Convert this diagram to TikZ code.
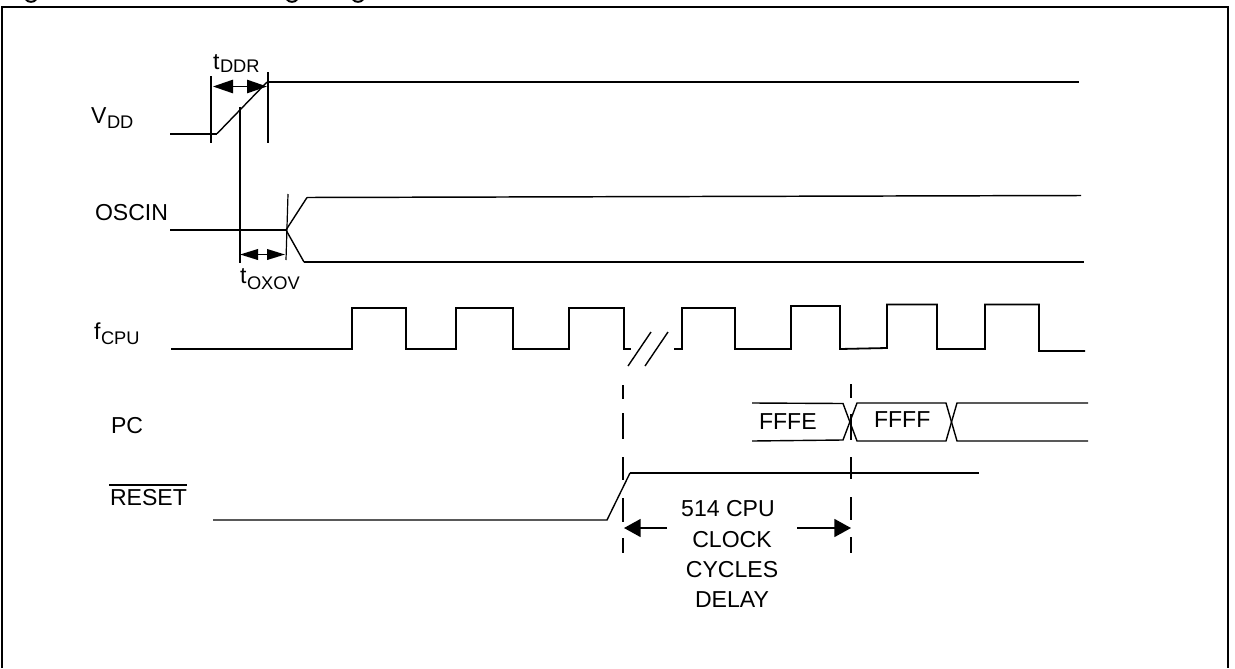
\documentclass[tikz,border=0pt]{standalone}
\usepackage{fontspec}
\setmainfont{Liberation Sans}
\usetikzlibrary{arrows.meta}
\tikzset{
  px/.style={x=0.75pt,y=-0.75pt},
  sig/.style={line width=1.35pt,line join=miter},
  thin sig/.style={line width=1.05pt,line join=miter},
  frame/.style={line width=1.6pt},
  tick/.style={line width=1.2pt},
  dashseg/.style={line width=1.2pt},
  txt/.style={anchor=base west,inner sep=0pt,outer sep=0pt,font=\fontsize{17.3}{20}\selectfont},
  ctxt/.style={anchor=base,inner sep=0pt,outer sep=0pt,font=\fontsize{17.3}{20}\selectfont},
  subt/.style={anchor=base west,inner sep=0pt,outer sep=0pt,font=\fontsize{13.7}{16}\selectfont},
  dimsmall/.style={line width=1.2pt,{Triangle[length=15pt,width=10pt]}-{Triangle[length=15pt,width=10pt]}},
  dimmid/.style={line width=1.2pt,{Triangle[length=13.5pt,width=8pt]}-{Triangle[length=13.5pt,width=8pt]}},
  dimbig/.style={line width=1.2pt,-{Triangle[length=12.5pt,width=13.5pt]}},
}
\begin{document}
\begin{tikzpicture}[px]
\useasboundingbox (0,0) rectangle (1235,668);
% title descenders, cut off by the top edge
\foreach \gx in {31,292,358}
  \draw[line width=1.5pt] (\gx-5,-0.5) .. controls (\gx-3,2.6) and (\gx+3,2.6) .. (\gx+5,-0.5);
% frame
\draw[frame] (2,668) -- (2,7) -- (1228,7) -- (1228,668);
% VDD
\draw[sig] (170,133.7) -- (217,133.7);
\draw[thin sig] (217,133.7) -- (267,82);
\draw[sig] (267,82) -- (1079,82);
\draw[tick] (211,76) -- (211,143);
\draw[tick] (268,72) -- (268,143);
\draw[dimsmall] (213,86.5) -- (267,86.5);
\draw[tick] (240,107) -- (240,263);
% OSCIN
\draw[thin sig] (170,230) -- (286,230);
\draw[thin sig] (286,230) -- (307,197.5);
\draw[sig,line width=1.1pt] (307,197.5) -- (1081,195.5);
\draw[thin sig] (286,230) -- (304,262);
\draw[sig] (304,262) -- (1084,262);
\draw[tick,line width=0.9pt] (288,194) -- (286,260);
\draw[dimmid] (240,254.5) -- (285,254.5);
% fCPU
\draw[sig] (171,349) -| (352,308) -| (406,349) -| (456,308) -| (513,349) -| (569,308) -| (624,349) -- (631,349);
\draw[thin sig] (628,366) -- (651,332);
\draw[thin sig] (645,366) -- (668,332);
\draw[sig] (674,349) -| (682,308) -| (735,349) -| (791,306) -| (840,349) -- (887,348) -- (887,304.5) -| (937,349) -| (985,304.5) -| (1039,351) -- (1085,351);
% PC
\draw[thin sig] (752,403) -- (843,403.5) -- (857,441) -- (946,441) -- (957,403) -- (1088,403);
\draw[thin sig] (752,441) -- (843,440) -- (857,403) -- (946,403) -- (957,441) -- (1088,441);
% RESET
\draw[thin sig] (213,520) -- (607,520) -- (630,473);
\draw[sig] (630,473) -- (979,473);
% dashed guides
\foreach \ya/\yb in {385/399,413/439,457/480,498/522,538/553}
  \draw[dashseg] (623,\ya) -- (623,\yb);
\foreach \ya/\yb in {384/398,414/440,457/479,497/520,537/553}
  \draw[dashseg] (851,\ya) -- (851,\yb);
% delay arrows
\draw[dimbig] (667,528) -- (624,528);
\draw[dimbig] (797,528) -- (851,528);
% labels
\node[txt] (tddr) at (213,69) {t};
\node[subt] (tddrs) at (220,72.5) {DDR};
\node[txt] (vdd) at (91,123) {V};
\node[subt] (vdds) at (107,128.5) {DD};
\node[txt] (oscin) at (95,220) {OSCIN};
\node[txt] (toxov) at (240,283) {t};
\node[subt] (toxovs) at (247,289) {OXOV};
\node[txt] (fcpu) at (94,339) {f};
\node[subt] (fcpus) at (101,344) {CPU};
\node[txt] (pc) at (111,433) {PC};
\node[txt] (reset) at (110,505) {RESET};
\draw[line width=1.4pt] (109,485) -- (187,485);
\node[txt] (fffe) at (759,429) {FFFE};
\node[txt] (ffff) at (874,427) {FFFF};
\node[ctxt] (d1) at (728,516) {514 CPU};
\node[ctxt] (d2) at (732,547) {CLOCK};
\node[ctxt] (d3) at (732,577) {CYCLES};
\node[ctxt] (d4) at (732,607) {DELAY};
\end{tikzpicture}
\end{document}
